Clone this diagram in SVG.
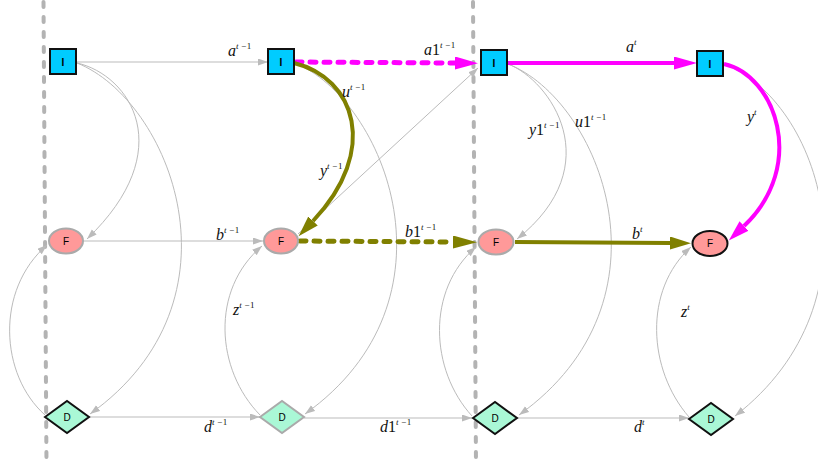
<svg xmlns="http://www.w3.org/2000/svg" width="818" height="468" viewBox="0 0 818 468">
<style>
.bg{fill:#ffffff}
.sep{stroke:#b3b3b3;stroke-width:4;stroke-dasharray:5,10;stroke-linecap:round;fill:none}
.e{stroke:#bbbbbb;stroke-width:1;fill:none}
.mg{stroke:#ff00ff;stroke-width:4;fill:none}
.mgd{stroke:#ff00ff;stroke-width:5;fill:none;stroke-dasharray:6,8;stroke-linecap:round}
.ol{stroke:#808000;stroke-width:4;fill:none}
.old{stroke:#808000;stroke-width:5;fill:none;stroke-dasharray:6,8;stroke-linecap:round}
.nI{fill:#00ccff;stroke:#111111;stroke-width:2}
.nF{fill:#ff9999;stroke:#aaaaaa;stroke-width:2}
.nD{fill:#aaf8d6;stroke:#aaaaaa;stroke-width:2}
.blk{stroke:#111111}
.nt{font-family:"Liberation Sans",Arial,sans-serif;font-size:10px;fill:#000;text-anchor:middle}
.bi{font-weight:bold}
.lbl{font-family:"Liberation Serif","Times New Roman",serif;font-style:italic;font-size:16px;fill:#111}
.sup{font-size:9px}
.up{font-style:normal}
</style>
<defs>
<marker id="ag" markerUnits="userSpaceOnUse" markerWidth="11" markerHeight="8" refX="10" refY="3.5" orient="auto">
<path d="M0,0 L10,3.5 L0,7 z" fill="#bbbbbb"/>
</marker>
<marker id="am" markerUnits="userSpaceOnUse" markerWidth="24" markerHeight="14" refX="0" refY="6.5" orient="auto">
<path d="M0,0 L23,6.5 L0,13 z" fill="#ff00ff"/>
</marker>
<marker id="am2" markerUnits="userSpaceOnUse" markerWidth="22" markerHeight="14" refX="0" refY="6.5" orient="auto">
<path d="M0,0 L21,6.5 L0,13 z" fill="#ff00ff"/>
</marker>
<marker id="ao" markerUnits="userSpaceOnUse" markerWidth="26" markerHeight="14" refX="0" refY="6.5" orient="auto">
<path d="M0,0 L24,6.5 L0,13 z" fill="#808000"/>
</marker>
<marker id="ao2" markerUnits="userSpaceOnUse" markerWidth="22" markerHeight="14" refX="0" refY="6.5" orient="auto">
<path d="M0,0 L21,6.5 L0,13 z" fill="#808000"/>
</marker>
</defs>
<rect class="bg" x="0" y="0" width="818" height="468"/>
<g id="separators">
<line class="sep" x1="43.5" y1="2" x2="46.5" y2="466"/>
<line class="sep" x1="473" y1="2" x2="476" y2="466"/>
</g>
<g id="connectors">
<path class="e" d="M77,62 L268,62" marker-end="url(#ag)"/>
<path class="e" d="M77,63 C130,75 180,150 87,239" marker-end="url(#ag)"/>
<path class="e" d="M77,63 C170,100 250,300 90,414" marker-end="url(#ag)"/>
<path class="e" d="M45,415 C0,375 -5,290 47,245" marker-end="url(#ag)"/>
<path class="e" d="M83,241 L263,241" marker-end="url(#ag)"/>
<path class="e" d="M89,417 L260,417" marker-end="url(#ag)"/>
<path class="e" d="M295,63 C385,100 465,300 305,414" marker-end="url(#ag)"/>
<path class="e" d="M260,415 C216,370 210,290 262,246" marker-end="url(#ag)"/>
<path class="e" d="M298,234 L478,68" marker-end="url(#ag)"/>
<path class="e" d="M304,418 L472,418" marker-end="url(#ag)"/>
<path class="e" d="M508,64 C550,80 610,165 517,239" marker-end="url(#ag)"/>
<path class="e" d="M508,64 C600,100 680,300 519,415" marker-end="url(#ag)"/>
<path class="e" d="M472,416 C430,370 426,290 476,247" marker-end="url(#ag)"/>
<path class="e" d="M517,418 L689,418" marker-end="url(#ag)"/>
<path class="e" d="M689,417 C648,370 643,290 691,247" marker-end="url(#ag)"/>
<path class="e" d="M724,64 C820,100 885,300 735,416" marker-end="url(#ag)"/>
<path class="mgd" d="M296,62 L455,63" marker-end="url(#am)"/>
<path class="mg" d="M508,63 L674,63" marker-end="url(#am)"/>
<path class="mg" d="M724,64 C775,75 808,165 744,226" marker-end="url(#am2)"/>
<path class="ol" d="M294,63 C355,78 380,150 313,221" marker-end="url(#ao2)"/>
<path class="old" d="M300,241 L453,242" marker-end="url(#ao)"/>
<path class="ol" d="M515,242 L670,243" marker-end="url(#ao2)"/>
</g>
<g id="labels">
<text class="lbl" x="228" y="56">a<tspan class="sup" dy="-7">t −<tspan class="up">1</tspan></tspan></text>
<text class="lbl" x="424" y="55">a<tspan class="up">1</tspan><tspan class="sup" dy="-7">t −<tspan class="up">1</tspan></tspan></text>
<text class="lbl" x="626" y="52">a<tspan class="sup" dy="-7">t</tspan></text>
<text class="lbl" x="342" y="97">u<tspan class="sup" dy="-7">t −<tspan class="up">1</tspan></tspan></text>
<text class="lbl" x="320" y="176">y<tspan class="sup" dy="-7">t −<tspan class="up">1</tspan></tspan></text>
<text class="lbl" x="529" y="135">y<tspan class="up">1</tspan><tspan class="sup" dy="-7">t −<tspan class="up">1</tspan></tspan></text>
<text class="lbl" x="575" y="127">u<tspan class="up">1</tspan><tspan class="sup" dy="-7">t −<tspan class="up">1</tspan></tspan></text>
<text class="lbl" x="747" y="122">y<tspan class="sup" dy="-7">t</tspan></text>
<text class="lbl" x="216" y="240">b<tspan class="sup" dy="-7">t −<tspan class="up">1</tspan></tspan></text>
<text class="lbl" x="405" y="237">b<tspan class="up">1</tspan><tspan class="sup" dy="-7">t −<tspan class="up">1</tspan></tspan></text>
<text class="lbl" x="632" y="239">b<tspan class="sup" dy="-7">t</tspan></text>
<text class="lbl" x="233" y="315">z<tspan class="sup" dy="-7">t −<tspan class="up">1</tspan></tspan></text>
<text class="lbl" x="681" y="317">z<tspan class="sup" dy="-7">t</tspan></text>
<text class="lbl" x="204" y="432">d<tspan class="sup" dy="-7">t −<tspan class="up">1</tspan></tspan></text>
<text class="lbl" x="380" y="432">d<tspan class="up">1</tspan><tspan class="sup" dy="-7">t −<tspan class="up">1</tspan></tspan></text>
<text class="lbl" x="634" y="432">d<tspan class="sup" dy="-7">t</tspan></text>
</g>
<g id="I1"><rect class="nI" x="50" y="49" width="26" height="25"/><text class="nt bi" x="63" y="65.5">I</text></g>
<g id="I2"><rect class="nI" x="268" y="49" width="26" height="25"/><text class="nt bi" x="281" y="65.5">I</text></g>
<g id="I3"><rect class="nI" x="481" y="50" width="26" height="25"/><text class="nt bi" x="494" y="66.5">I</text></g>
<g id="I4"><rect class="nI" x="697" y="51" width="26" height="25"/><text class="nt bi" x="710" y="67.5">I</text></g>
<g id="F1"><ellipse class="nF" cx="66" cy="241" rx="17" ry="12.5"/><text class="nt" x="66" y="244.5">F</text></g>
<g id="F2"><ellipse class="nF" cx="281" cy="241" rx="17" ry="12.5"/><text class="nt" x="281" y="244.5">F</text></g>
<g id="F3"><ellipse class="nF" cx="496" cy="242" rx="17.5" ry="12.5"/><text class="nt" x="496" y="245.5">F</text></g>
<g id="F4"><ellipse class="nF blk" cx="710" cy="243.5" rx="17.5" ry="12.5"/><text class="nt" x="710" y="247">F</text></g>
<g id="D1"><path class="nD blk" d="M45,417 L67,401 L89,417 L67,433 z"/><text class="nt" x="67" y="420.5">D</text></g>
<g id="D2"><path class="nD" d="M260,417 L282,401 L304,417 L282,433 z"/><text class="nt" x="282" y="420.5">D</text></g>
<g id="D3"><path class="nD blk" d="M473,418 L495,402 L517,418 L495,434 z"/><text class="nt" x="495" y="421.5">D</text></g>
<g id="D4"><path class="nD blk" d="M689,419 L711,403 L733,419 L711,435 z"/><text class="nt" x="711" y="422.5">D</text></g>
</svg>
